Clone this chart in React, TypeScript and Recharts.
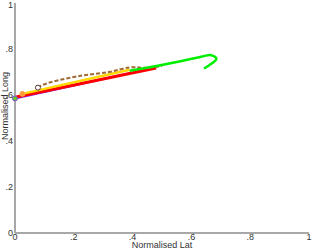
import React from 'react';
import { LineChart, Line, XAxis, YAxis } from 'recharts';

// tracks, normalised lat (x) / long (y)
const purpleTrack = [
  { x: 0, y: 0.585 },
  { x: 0.39, y: 0.695 },
];
const redTrack = [
  { x: 0, y: 0.59 },
  { x: 0.48, y: 0.717 },
];
const yellowTrack = [
  { x: 0.025, y: 0.605 },
  { x: 0.39, y: 0.71 },
];
const brownTrack = [
  { x: 0.078, y: 0.632 },
  { x: 0.12, y: 0.655 },
  { x: 0.23, y: 0.685 },
  { x: 0.32, y: 0.7 },
  { x: 0.39, y: 0.72 },
  { x: 0.44, y: 0.718 },
  { x: 0.5, y: 0.726 },
];
const greenTrack = [
  { x: 0.39, y: 0.705 },
  { x: 0.49, y: 0.728 },
  { x: 0.63, y: 0.765 },
  { x: 0.665, y: 0.774 },
  { x: 0.684, y: 0.762 },
  { x: 0.675, y: 0.742 },
  { x: 0.643, y: 0.715 },
];
const ticks = [0, 0.2, 0.4, 0.6, 0.8, 1];

const fmt = (v: number) => (v === 0 ? '0' : v === 1 ? '1' : String(v).replace('0.', '.'));

const firstDot = (fill: string, stroke: string, r: number) => (p: any) =>
  p.index === 0 ? (
    <circle key={`d${p.index}`} cx={p.cx} cy={p.cy} r={r} fill={fill} stroke={stroke} strokeWidth={1} />
  ) : (
    <g key={`d${p.index}`} />
  );

const tickStyle = { fontSize: 9, fill: '#333', fontFamily: 'Liberation Sans, Arial, sans-serif' };

export default function App() {
  return (
    <div style={{ position: 'absolute', left: 0, top: 0, background: '#fff' }}>
      <LineChart width={316} height={249} margin={{ top: 3, right: 7, left: 0, bottom: 0 }}>
        <XAxis
          type="number"
          dataKey="x"
          domain={[0, 1]}
          ticks={ticks}
          tickFormatter={fmt}
          tickLine={false}
          tickSize={0}
          tickMargin={1}
          height={16}
          stroke="#a8a8a8"
          strokeWidth={2}
          tick={tickStyle}
          label={{ value: 'Normalised Lat', position: 'insideBottom', offset: 1, style: { ...tickStyle, fill: '#333' } }}
        />
        <YAxis
          type="number"
          dataKey="y"
          domain={[0, 1]}
          ticks={ticks}
          tickFormatter={fmt}
          tickLine={false}
          tickSize={0}
          tickMargin={2}
          width={15}
          stroke="#a8a8a8"
          strokeWidth={2}
          tick={tickStyle}
          label={{ value: 'Normalised Long', angle: -90, position: 'insideLeft', offset: 0, dx: 5, dy: -12, style: { ...tickStyle, textAnchor: 'middle' } }}
        />
        <Line data={purpleTrack} dataKey="y" type="linear" stroke="#7a2cff" strokeWidth={2} dot={firstDot('#66cc33', '#8844cc', 2.5)} isAnimationActive={false} />
        <Line data={redTrack} dataKey="y" type="linear" stroke="#ff0000" strokeWidth={3} dot={false} isAnimationActive={false} />
        <Line data={yellowTrack} dataKey="y" type="linear" stroke="#ffd700" strokeWidth={2.5} dot={firstDot('#ff9933', '#ffaa55', 2.5)} isAnimationActive={false} />
        <Line data={brownTrack} dataKey="y" type="natural" stroke="#a06a35" strokeWidth={2} strokeDasharray="4 2" dot={firstDot('#ffffff', '#553333', 2.5)} isAnimationActive={false} />
        <Line data={greenTrack} dataKey="y" type="natural" stroke="#00ee00" strokeWidth={2.5} dot={false} isAnimationActive={false} />
      </LineChart>
    </div>
  );
}
